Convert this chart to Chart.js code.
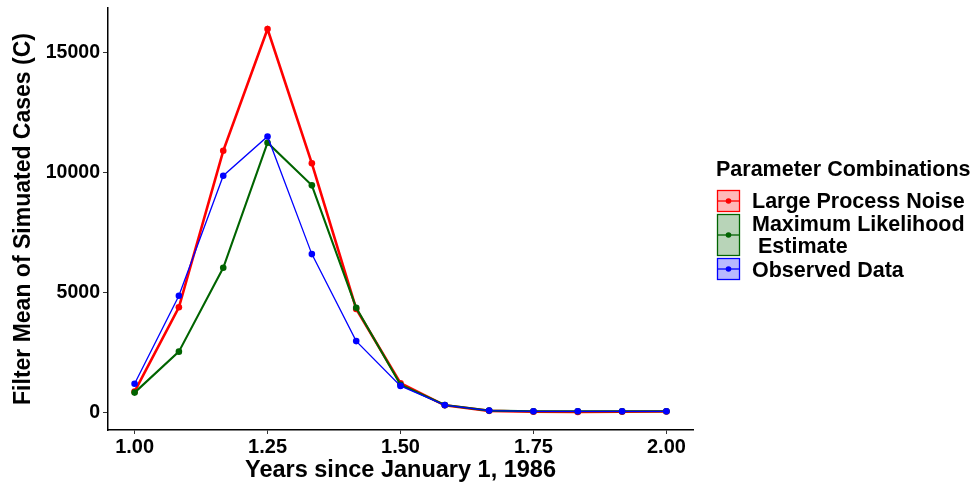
<!DOCTYPE html>
<html>
<head>
<meta charset="utf-8">
<script src="https://cdn.jsdelivr.net/npm/chart.js@4"></script>
<style>
  html, body { margin: 0; padding: 0; background: #fff; }
  #wrap { position: relative; width: 978px; height: 487px; }
</style>
</head>
<body>
<div id="wrap"><canvas id="myChart" width="978" height="487"></canvas></div>
<script>
// years since January 1, 1986 (monthly)
var years = [1, 1.0833, 1.1667, 1.25, 1.3333, 1.4167, 1.5, 1.5833, 1.6667, 1.75, 1.8333, 1.9167, 2];

var largeNoise = [860, 4380, 10910, 15990, 10390, 4310, 1210, 290, 60, 20, 10, 20, 30];
var mle = [820, 2530, 6030, 11250, 9470, 4360, 1150, 300, 70, 45, 40, 40, 40];
var observed = [1190, 4860, 9870, 11510, 6600, 2970, 1100, 300, 70, 40, 40, 40, 40];

var xTicks = [1, 1.25, 1.5, 1.75, 2];
var yTicks = [0, 5000, 10000, 15000];

var seriesNames = ["Large Process Noise", ["Maximum Likelihood", " Estimate"], "Observed Data"];
var seriesColors = ["#ff0000", "#006400", "#0000ff"];
var seriesFills = ["rgba(255,0,0,0.28)", "rgba(0,100,0,0.28)", "rgba(0,0,255,0.28)"];

var FONT = "'Liberation Sans', Arial, sans-serif";

function pts(vals) {
  return vals.map(function (v, i) { return { x: years[i], y: v }; });
}

// ggplot-like legend on the right
var sideLegend = {
  id: "sideLegend",
  afterDraw: function (chart) {
    var c = chart.ctx;
    c.save();
    c.fillStyle = "#000";
    c.font = "bold 21.5px " + FONT;
    c.textBaseline = "alphabetic";
    c.fillText("Parameter Combinations", 716, 176);

    var boxes = [[190, 212], [214, 256], [258, 280]];
    var baselines = [[208], [231, 253], [277]];
    for (var i = 0; i < 3; i++) {
      var top = boxes[i][0], bot = boxes[i][1];
      var mid = (top + bot) / 2;
      c.fillStyle = seriesFills[i];
      c.fillRect(717, top, 23, bot - top);
      c.strokeStyle = seriesColors[i];
      c.lineWidth = 1.3;
      c.strokeRect(717.5, top + 0.5, 22, bot - top - 1);
      c.beginPath();
      c.moveTo(718, mid);
      c.lineTo(739, mid);
      c.stroke();
      c.beginPath();
      c.arc(728.5, mid, 2.8, 0, Math.PI * 2);
      c.fillStyle = seriesColors[i];
      c.fill();

      var txt = [].concat(seriesNames[i]);
      c.fillStyle = "#000";
      c.font = "bold 21.5px " + FONT;
      for (var j = 0; j < txt.length; j++) {
        c.fillText(txt[j], 752, baselines[i][j]);
      }
    }
    c.restore();
  }
};

document.addEventListener("DOMContentLoaded", function () {
  var ctx = document.getElementById("myChart").getContext("2d");
  var myChart = new Chart(ctx, {
    type: "line",
    data: {
      datasets: [
        {
          label: "Large Process Noise",
          data: pts(largeNoise),
          borderColor: seriesColors[0],
          backgroundColor: seriesColors[0],
          borderWidth: 2.6,
          pointRadius: 3.3,
          pointBorderWidth: 0,
          order: 2
        },
        {
          label: "Maximum Likelihood Estimate",
          data: pts(mle),
          borderColor: seriesColors[1],
          backgroundColor: seriesColors[1],
          borderWidth: 2.1,
          pointRadius: 3.3,
          pointBorderWidth: 0,
          order: 1
        },
        {
          label: "Observed Data",
          data: pts(observed),
          borderColor: seriesColors[2],
          backgroundColor: seriesColors[2],
          borderWidth: 1.3,
          pointRadius: 3.3,
          pointBorderWidth: 0,
          order: 0
        }
      ]
    },
    options: {
      responsive: false,
      animation: false,
      layout: { padding: { top: 8, right: 285, left: 0, bottom: 0 } },
      plugins: {
        legend: { display: false },
        tooltip: { enabled: false }
      },
      scales: {
        x: {
          type: "linear",
          min: 0.95,
          max: 2.05,
          afterBuildTicks: function (s) {
            s.ticks = xTicks.map(function (v) { return { value: v }; });
          },
          afterFit: function (s) {
            s.height = 57;
            s.paddingLeft = 0;
            s.paddingRight = 0;
          },
          grid: { drawOnChartArea: false, drawTicks: true, tickLength: 4, color: "#333" },
          border: { display: true, color: "#000", width: 1.5 },
          ticks: {
            color: "#000",
            padding: 1,
            maxRotation: 0,
            font: { family: FONT, size: 20, weight: "bold" },
            callback: function (v) { return Number(v).toFixed(2); }
          },
          title: {
            display: true,
            text: "Years since January 1, 1986",
            color: "#000",
            padding: { top: 0, bottom: 2 },
            font: { family: FONT, size: 23.5, weight: "bold" }
          }
        },
        y: {
          min: -740,
          max: 16870,
          afterBuildTicks: function (s) {
            s.ticks = yTicks.map(function (v) { return { value: v }; });
          },
          afterFit: function (s) {
            s.width = 108;
            s.paddingTop = 0;
            s.paddingBottom = 0;
          },
          grid: { drawOnChartArea: false, drawTicks: true, tickLength: 5, color: "#333" },
          border: { display: true, color: "#000", width: 1.5 },
          ticks: {
            color: "#000",
            padding: 3,
            font: { family: FONT, size: 19.5, weight: "bold" },
            callback: function (v) { return String(v); }
          },
          title: {
            display: true,
            text: "Filter Mean of Simuated Cases (C)",
            color: "#000",
            padding: { top: 10, bottom: 0 },
            font: { family: FONT, size: 23, weight: "bold" }
          }
        }
      }
    },
    plugins: [sideLegend]
  });
});
</script>
</body>
</html>
